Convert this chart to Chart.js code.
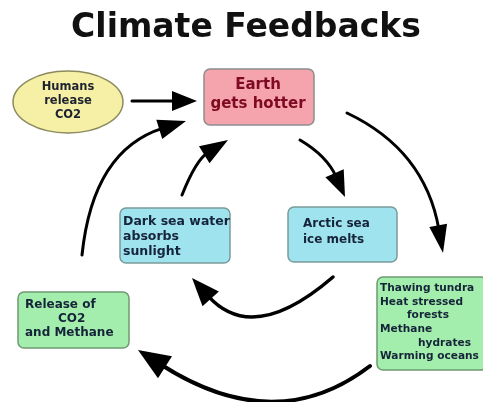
<!DOCTYPE html>
<html><head><meta charset="utf-8">
<script src="https://cdn.jsdelivr.net/npm/chart.js@4"></script>
<style>html,body{margin:0;padding:0;background:#fff;}canvas{display:block;}</style>
</head><body>
<canvas id="c" width="483" height="402"></canvas>
<script>
// ---- content ----
const titleText = "Climate Feedbacks";
const nodeNames = ["humans", "earth", "arctic", "darksea", "tundra", "release"];
const nodeLines = [
  ["Humans", "release", "CO2"],
  ["Earth", "gets hotter"],
  ["Arctic sea", "ice melts"],
  ["Dark sea water", "absorbs", "sunlight"],
  ["Thawing tundra", "Heat stressed", "forests", "Methane", "hydrates", "Warming oceans"],
  ["Release of", "CO2", "and Methane"]
];
const links = [
  ["humans", "earth"],
  ["earth", "arctic"],
  ["earth", "tundra"],
  ["arctic", "darksea"],
  ["darksea", "earth"],
  ["tundra", "release"],
  ["release", "earth"]
];

// ---- layout (in scale units) ----
const layout = {
  humans:  {shape: "ellipse", cx: 68, cy: 102, rx: 55, ry: 31, fill: "#f6f0a6", stroke: "#8c8a5e",
            font: 11.5, color: "#1e2230", align: "center", tx: [68, 68, 68], ty: [87, 101.5, 115.5]},
  earth:   {shape: "rect", x: 204, y: 69, w: 110, h: 56, fill: "#f5a3ac", stroke: "#8d8d8d",
            font: 15, color: "#7d0a22", align: "center", tx: [258, 258], ty: [85, 104]},
  arctic:  {shape: "rect", x: 288, y: 207, w: 109, h: 55, fill: "#9fe3ee", stroke: "#7b9b9b",
            font: 12, color: "#16243a", align: "left", tx: [303, 303], ty: [224, 240]},
  darksea: {shape: "rect", x: 120, y: 208, w: 110, h: 55, fill: "#9fe3ee", stroke: "#7b9b9b",
            font: 12.5, color: "#16243a", align: "left", tx: [123, 123, 123], ty: [222, 237, 252]},
  tundra:  {shape: "rect", x: 377, y: 277, w: 110, h: 93, fill: "#a3eeac", stroke: "#6f9a70",
            font: 10.6, color: "#16243a", align: "left", tx: [380, 380, 407, 380, 418, 380], ty: [288, 302, 315, 329, 343, 356]},
  release: {shape: "rect", x: 18, y: 292, w: 111, h: 56, fill: "#a3eeac", stroke: "#6f9a70",
            font: 12, color: "#16243a", align: "left", tx: [25, 58, 25], ty: [305, 319, 333]}
};
// arrow paths: start, control, end (quadratic), width, head length, head half-width
const arrowPaths = [
  {p0: [132, 101], c: [165, 101], p1: [197, 101], lw: 3, hl: 25, hw: 10},
  {p0: [300, 140], c: [327, 156], p1: [345, 197], lw: 3, hl: 26, hw: 10},
  {p0: [347, 113], c: [425, 150], p1: [443, 253], lw: 3, hl: 28, hw: 9},
  {p0: [333, 277], c: [253, 346], p1: [192, 278], lw: 3.5, hl: 28, hw: 11},
  {p0: [182, 195], c: [196, 160], p1: [228, 140], lw: 3, hl: 28, hw: 10},
  {p0: [370, 366], c: [276, 438], p1: [138, 350], lw: 4, hl: 32, hw: 13},
  {p0: [82, 255], c: [93, 150], p1: [186, 121], lw: 3, hl: 28, hw: 10}
];

const diagram = {
  id: "diagram",
  afterDraw(chart) {
    const ctx = chart.ctx, xs = chart.scales.x, ys = chart.scales.y;
    const X = v => xs.getPixelForValue(v), Y = v => ys.getPixelForValue(v);
    ctx.save();
    // title
    ctx.fillStyle = "#111";
    ctx.font = "bold 33px 'DejaVu Sans'";
    ctx.textAlign = "center"; ctx.textBaseline = "middle";
    ctx.fillText(titleText, X(246), Y(28));

    // nodes
    nodeNames.forEach((name, i) => {
      const L = layout[name];
      ctx.lineWidth = 1.5; ctx.strokeStyle = L.stroke; ctx.fillStyle = L.fill;
      ctx.beginPath();
      if (L.shape === "ellipse") {
        ctx.ellipse(X(L.cx), Y(L.cy), Math.abs(X(L.cx + L.rx) - X(L.cx)), Math.abs(Y(L.cy + L.ry) - Y(L.cy)), 0, 0, Math.PI * 2);
      } else {
        const x0 = X(L.x), y0 = Y(L.y), w = X(L.x + L.w) - x0, h = Y(L.y + L.h) - y0;
        ctx.roundRect(x0, y0, w, h, 6);
      }
      ctx.fill(); ctx.stroke();
      ctx.fillStyle = L.color;
      ctx.font = "bold " + L.font + "px 'DejaVu Sans'";
      ctx.textAlign = L.align; ctx.textBaseline = "middle";
      nodeLines[i].forEach((t, j) => ctx.fillText(t, X(L.tx[j]), Y(L.ty[j])));
    });

    // arrows
    ctx.strokeStyle = "#000"; ctx.fillStyle = "#000"; ctx.lineCap = "round";
    links.forEach((lk, i) => {
      const a = arrowPaths[i];
      const p0 = [X(a.p0[0]), Y(a.p0[1])], c = [X(a.c[0]), Y(a.c[1])], p1 = [X(a.p1[0]), Y(a.p1[1])];
      const dx = p1[0] - c[0], dy = p1[1] - c[1], d = Math.hypot(dx, dy);
      const ux = dx / d, uy = dy / d;
      const bx = p1[0] - ux * a.hl, by = p1[1] - uy * a.hl;
      ctx.lineWidth = a.lw;
      ctx.beginPath();
      ctx.moveTo(p0[0], p0[1]);
      ctx.quadraticCurveTo(c[0], c[1], bx + ux * 4, by + uy * 4);
      ctx.stroke();
      ctx.beginPath();
      ctx.moveTo(p1[0], p1[1]);
      ctx.lineTo(bx - uy * a.hw, by + ux * a.hw);
      ctx.lineTo(bx + uy * a.hw, by - ux * a.hw);
      ctx.closePath(); ctx.fill();
    });
    ctx.restore();
  }
};

new Chart(document.getElementById("c"), {
  type: "scatter",
  data: {datasets: [{data: [], showLine: false}]},
  options: {
    responsive: false, animation: false,
    layout: {padding: 0},
    plugins: {legend: {display: false}, tooltip: {enabled: false}},
    scales: {
      x: {type: "linear", min: 0, max: 483, display: false},
      y: {type: "linear", min: 0, max: 402, reverse: true, display: false}
    }
  },
  plugins: [diagram]
});
</script>
</body></html>
